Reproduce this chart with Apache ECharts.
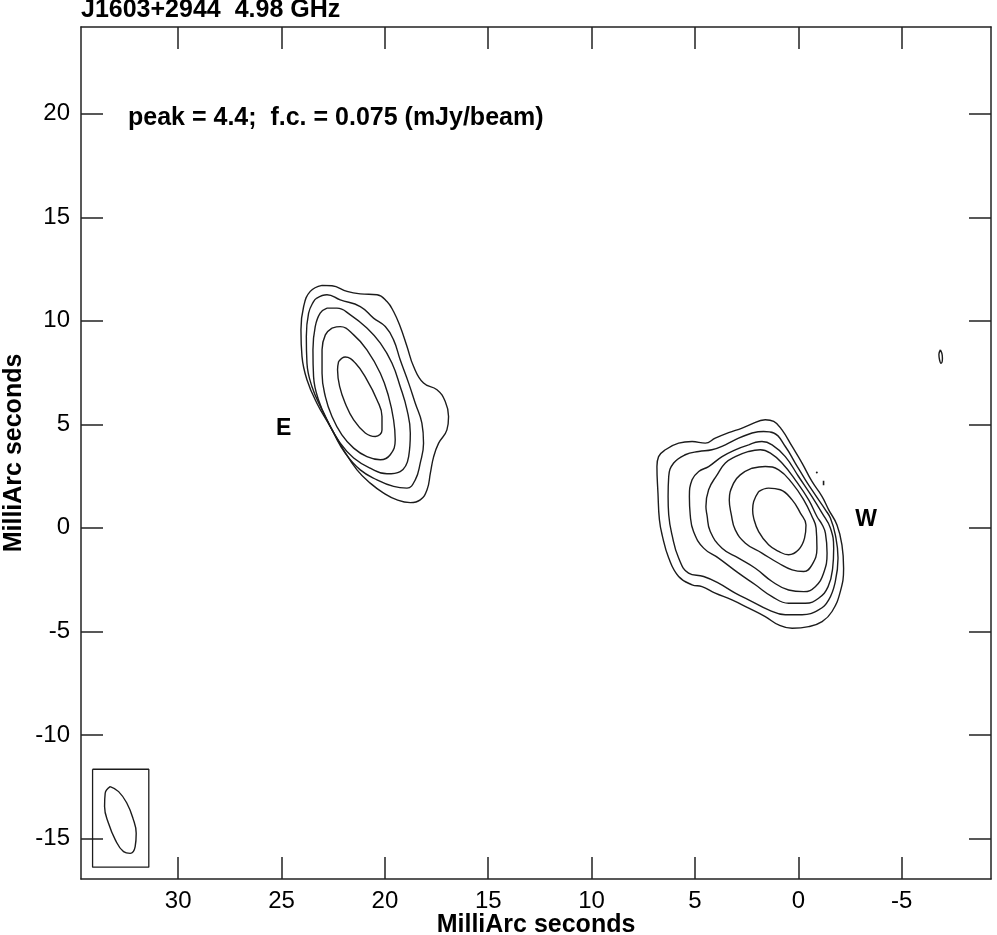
<!DOCTYPE html>
<html>
<head>
<meta charset="utf-8">
<script src="https://cdn.jsdelivr.net/npm/echarts@6/dist/echarts.min.js"></script>
<style>
html,body{margin:0;padding:0;background:#fff;}
#chart{width:997px;height:935px;}
</style>
</head>
<body>
<div id="chart"></div>
<script>
// ---- axis ranges (MilliArc seconds) ----
const xRange = [-9.32, 34.70];
const yRange = [-16.96, 24.19];
const xTicks = [30, 25, 20, 15, 10, 5, 0, -5];
const yTicks = [-15, -10, -5, 0, 5, 10, 15, 20];

const titleText = 'J1603+2944  4.98 GHz';
const peakText = 'peak = 4.4;  f.c. = 0.075 (mJy/beam)';
const axisName = 'MilliArc seconds';

// ---- component labels ----
const compLabels = [
  {name: 'E', value: [24.90, 4.78]},
  {name: 'W', value: [-3.28, 0.38]}
];

// ---- contours of the East component ----
const contE1 = [[23.04,11.71],[22.56,11.69],[21.83,11.42],[21.19,11.30],[20.38,11.26],[19.90,10.93],[19.58,10.45],[19.26,9.72],[18.93,8.76],[18.61,7.79],[18.13,6.99],[17.48,6.67],[17.08,6.10],[16.92,5.38],[17.00,4.73],[17.40,4.09],[17.64,3.44],[17.80,2.64],[17.96,1.84],[18.29,1.35],[18.77,1.22],[19.41,1.35],[20.06,1.68],[20.71,2.16],[21.35,2.80],[22.00,3.77],[22.64,4.89],[23.29,6.02],[23.77,7.15],[24.01,8.28],[24.06,9.57],[23.93,10.69],[23.61,11.42]];
const contE2 = [[23.29,11.10],[22.80,11.26],[22.16,11.01],[21.19,10.69],[20.55,10.13],[19.98,9.72],[19.58,9.08],[19.26,8.12],[18.85,6.99],[18.53,6.02],[18.21,5.06],[18.13,4.09],[18.29,3.13],[18.53,2.32],[18.93,1.92],[19.58,2.00],[20.38,2.32],[21.19,2.80],[21.92,3.61],[22.48,4.58],[23.04,5.70],[23.53,6.83],[23.77,7.96],[23.80,9.24],[23.69,10.37],[23.45,10.93]];
const contE3 = [[22.80,10.61],[22.32,10.61],[21.67,10.29],[20.87,9.65],[20.22,8.92],[19.66,7.96],[19.26,6.83],[18.93,5.70],[18.77,4.58],[18.85,3.44],[19.26,2.72],[19.90,2.61],[20.71,2.88],[21.51,3.37],[22.16,4.09],[22.72,5.06],[23.21,6.18],[23.45,7.31],[23.48,8.60],[23.37,9.72],[23.13,10.37]];
const contE4 = [[22.56,9.65],[22.16,9.72],[21.51,9.32],[20.87,8.60],[20.22,7.47],[19.82,6.34],[19.58,5.22],[19.50,4.25],[19.74,3.53],[20.22,3.29],[20.87,3.44],[21.51,3.85],[22.08,4.49],[22.56,5.38],[22.88,6.34],[23.04,7.47],[23.04,8.60],[22.88,9.32]];
const contE5 = [[22.24,8.03],[21.92,8.25],[21.43,7.96],[20.87,7.15],[20.38,6.18],[20.14,5.38],[20.14,4.73],[20.46,4.41],[20.95,4.58],[21.51,5.22],[21.92,6.02],[22.19,6.83],[22.29,7.63]];

// ---- contours of the West component ----
const contW1 = [[2.08,5.09],[1.60,5.22],[1.19,5.14],[0.79,4.73],[0.30,3.93],[-0.18,3.13],[-0.66,2.24],[-1.15,1.51],[-1.47,0.87],[-1.87,0.14],[-2.11,-0.82],[-2.19,-1.95],[-2.03,-3.08],[-1.63,-4.04],[-1.15,-4.53],[-0.50,-4.77],[0.30,-4.85],[0.95,-4.69],[1.60,-4.29],[2.40,-3.88],[3.21,-3.48],[4.02,-3.15],[4.66,-2.84],[5.14,-2.75],[5.79,-2.35],[6.27,-1.46],[6.59,-0.34],[6.72,0.39],[6.79,1.68],[6.84,2.96],[6.76,3.44],[6.43,3.77],[5.79,4.09],[5.14,4.17],[4.50,4.09],[4.02,4.33],[3.37,4.60],[2.72,4.82]];
const contW2 = [[2.24,4.58],[1.68,4.65],[1.19,4.58],[0.63,3.93],[0.15,3.13],[-0.34,2.32],[-0.82,1.59],[-1.31,0.87],[-1.55,0.47],[-1.79,-0.34],[-1.92,-1.46],[-1.79,-2.59],[-1.47,-3.48],[-0.98,-3.96],[-0.18,-4.20],[0.63,-4.20],[1.44,-3.96],[2.24,-3.56],[3.05,-3.15],[3.86,-2.67],[4.58,-2.35],[5.31,-2.19],[5.79,-1.46],[6.11,-0.34],[6.27,0.63],[6.30,1.51],[6.27,2.48],[6.03,3.13],[5.47,3.53],[4.82,3.69],[4.18,3.77],[3.53,4.01],[2.89,4.33]];
const contW3 = [[2.40,4.01],[1.76,4.17],[1.27,4.01],[0.63,3.44],[-0.01,2.48],[-0.66,1.51],[-1.15,0.71],[-1.55,-0.01],[-1.71,-0.98],[-1.66,-1.95],[-1.44,-2.84],[-0.98,-3.40],[-0.34,-3.64],[0.47,-3.64],[1.27,-3.32],[2.08,-2.75],[2.89,-2.19],[3.86,-1.46],[4.58,-0.98],[5.07,-0.18],[5.23,0.63],[5.27,1.51],[5.14,2.32],[4.82,2.72],[4.34,2.96],[3.69,3.44],[3.05,3.77]];
const contW4 = [[2.40,3.69],[1.84,3.77],[1.35,3.61],[0.79,3.13],[0.15,2.32],[-0.50,1.35],[-0.90,0.55],[-1.16,0.14],[-1.31,-0.26],[-1.39,-1.22],[-1.22,-2.19],[-0.82,-2.84],[-0.26,-3.08],[0.47,-3.00],[1.27,-2.59],[2.08,-1.95],[2.89,-1.46],[3.69,-0.98],[4.26,-0.18],[4.42,0.63],[4.47,1.03],[4.34,1.84],[3.93,2.56],[3.53,3.13],[3.05,3.44]];
const contW5 = [[2.24,2.88],[1.60,2.96],[0.95,2.80],[0.30,2.16],[-0.26,1.35],[-0.66,0.55],[-0.86,-0.01],[-0.90,-0.98],[-0.66,-1.79],[-0.26,-2.11],[0.30,-2.03],[0.95,-1.71],[1.76,-1.22],[2.56,-0.74],[3.05,-0.10],[3.24,0.63],[3.34,1.35],[3.13,2.16],[2.81,2.56]];
const contW6 = [[1.92,1.75],[1.44,1.92],[0.87,1.84],[0.30,1.35],[-0.10,0.71],[-0.37,0.14],[-0.30,-0.50],[-0.01,-1.06],[0.47,-1.30],[0.95,-1.14],[1.44,-0.82],[1.92,-0.18],[2.16,0.47],[2.21,0.87],[2.16,1.27]];

// ---- small isolated features ----
const blobNE = [[-6.87,8.60],[-6.95,8.40],[-6.97,8.18],[-6.90,7.95],[-6.83,8.12],[-6.80,8.38]];
const dotA = [[-0.87,2.71],[-0.92,2.64]];
const dotB = [[-1.22,2.27],[-1.22,2.06]];

// ---- restoring beam and its box ----
const beamOutline = [[33.29,-12.50],[32.88,-12.74],[32.48,-13.30],[32.19,-14.02],[32.03,-14.75],[32.08,-15.40],[32.32,-15.72],[32.64,-15.64],[33.04,-15.07],[33.37,-14.27],[33.56,-13.46],[33.53,-12.82]];
const beamBox = [[34.14,-11.66],[31.42,-11.66],[31.42,-16.39],[34.14,-16.39]];

const closedContours = [contE1, contE2, contE3, contE4, contE5, contW1, contW2, contW3, contW4, contW5, contW6, blobNE, beamOutline];
const openLines = [dotA, dotB];

const LINE = '#1c1c1c';
const FONT = 'Liberation Sans, Arial, Helvetica, sans-serif';

function closeLoop(a) { return a.concat([a[0]]); }

const series = [];
closedContours.forEach(function (c) {
  series.push({
    type: 'line', data: closeLoop(c), showSymbol: false, smooth: 0.45,
    lineStyle: {color: LINE, width: 1.4}, silent: true, animation: false, z: 3
  });
});
openLines.forEach(function (c) {
  series.push({
    type: 'line', data: c, showSymbol: false,
    lineStyle: {color: LINE, width: 1.6}, silent: true, animation: false
  });
});
series.push({
  type: 'line', data: closeLoop(beamBox), showSymbol: false,
  lineStyle: {color: LINE, width: 1.3}, silent: true, animation: false
});
series.push({
  type: 'scatter', data: compLabels, symbolSize: 0, animation: false, silent: true,
  itemStyle: {opacity: 1},
  label: {
    show: true, position: 'inside', formatter: function (p) { return p.name; },
    color: '#000', opacity: 1, textBorderWidth: 0,
    fontFamily: FONT, fontWeight: 'bold', fontSize: 23
  }
});

function axisCommon(extra) {
  return Object.assign({
    type: 'value', scale: true,
    splitLine: {show: false},
    axisLine: {show: true, onZero: false, lineStyle: {color: '#222', width: 1.5}},
  }, extra);
}

const option = {
  backgroundColor: '#fff',
  animation: false,
  grid: {left: 81, right: 6, top: 27, bottom: 56, containLabel: false, outerBoundsMode: 'none'},
  xAxis: [
    axisCommon({
      min: xRange[0], max: xRange[1], inverse: true, position: 'bottom',
      axisTick: {show: true, inside: true, length: 22, customValues: xTicks, lineStyle: {color: '#222', width: 1.5}},
      axisLabel: {show: true, customValues: xTicks, margin: 10, fontSize: 24, color: '#000', fontFamily: FONT},
      name: axisName, nameLocation: 'middle', nameGap: 34, nameMoveOverlap: false,
      nameTextStyle: {fontSize: 25, fontWeight: 'bold', color: '#000', fontFamily: FONT}
    }),
    axisCommon({
      min: xRange[0], max: xRange[1], inverse: true, position: 'top',
      axisTick: {show: true, inside: true, length: 22, customValues: xTicks, lineStyle: {color: '#222', width: 1.5}},
      axisLabel: {show: false}
    })
  ],
  yAxis: [
    axisCommon({
      min: yRange[0], max: yRange[1], position: 'left',
      axisTick: {show: true, inside: true, length: 22, customValues: yTicks, lineStyle: {color: '#222', width: 1.5}},
      axisLabel: {show: true, customValues: yTicks, margin: 11, fontSize: 24, color: '#000', fontFamily: FONT},
      name: axisName, nameLocation: 'middle', nameGap: 54, nameRotate: 90, nameMoveOverlap: false,
      nameTextStyle: {fontSize: 25, fontWeight: 'bold', color: '#000', fontFamily: FONT}
    }),
    axisCommon({
      min: yRange[0], max: yRange[1], position: 'right',
      axisTick: {show: true, inside: true, length: 22, customValues: yTicks, lineStyle: {color: '#222', width: 1.5}},
      axisLabel: {show: false}
    })
  ],
  graphic: [
    {type: 'text', left: 81, top: -2, style: {text: titleText, fill: '#000', font: 'bold 25px ' + FONT}},
    {type: 'text', left: 128, top: 106, style: {text: peakText, fill: '#000', font: 'bold 25px ' + FONT}}
  ],
  series: series
};

const chart = echarts.init(document.getElementById('chart'), null, {renderer: 'canvas'});
chart.setOption(option);
</script>
</body>
</html>
